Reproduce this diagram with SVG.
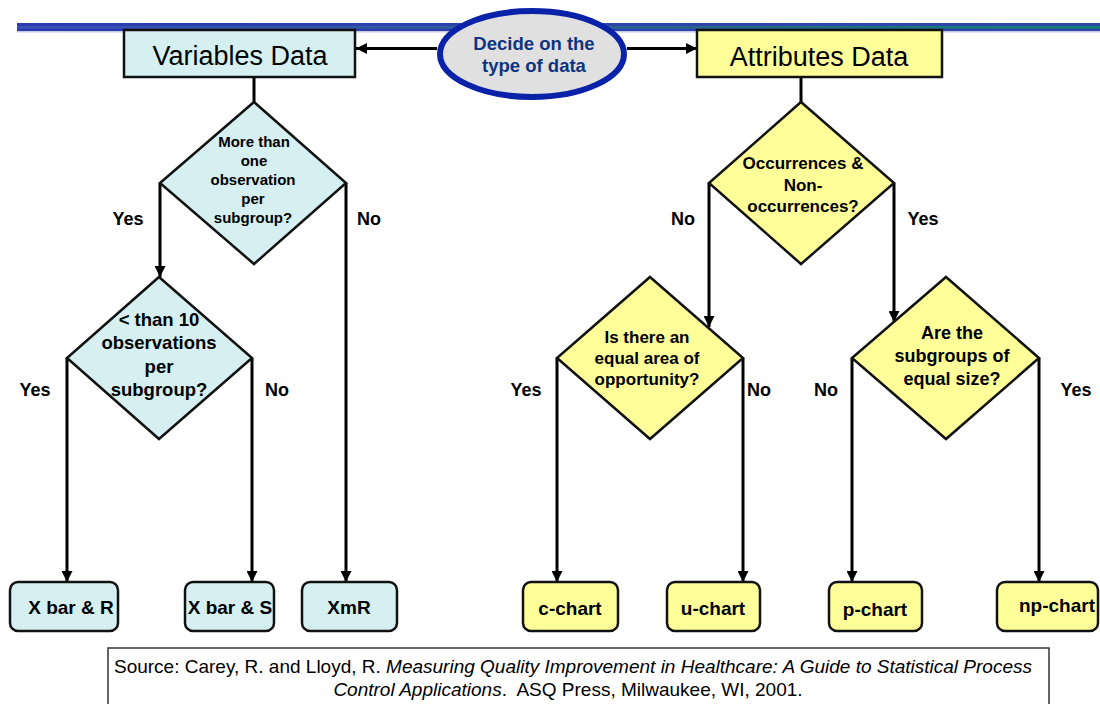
<svg xmlns="http://www.w3.org/2000/svg" width="1100" height="704" viewBox="0 0 1100 704">
<defs>
<linearGradient id="barG" x1="0" y1="0" x2="1" y2="0">
<stop offset="0" stop-color="#2a3cb0"/>
<stop offset="1" stop-color="#3048a8"/>
</linearGradient>
<linearGradient id="stripeG" x1="0" y1="0" x2="1" y2="0">
<stop offset="0" stop-color="#3a50b8"/>
<stop offset="0.5" stop-color="#2a6090"/>
<stop offset="1" stop-color="#0e8470"/>
</linearGradient>
<marker id="arr" viewBox="0 0 10 10" refX="10" refY="5" markerWidth="11" markerHeight="11" markerUnits="userSpaceOnUse" orient="auto">
<path d="M0,0 L10,5 L0,10 z" fill="#000"/>
</marker>
<style>
.conn{fill:none;stroke:#000;stroke-width:3}
.arrow{marker-end:url(#arr)}
.cyan{fill:#d6f0f2;stroke:#111;stroke-width:2.5}
.yel{fill:#ffff99;stroke:#111;stroke-width:2.5}
.dia{stroke-linejoin:miter}
.t{font-family:"Liberation Sans",Arial,sans-serif;fill:#000;text-anchor:middle}
.b{font-weight:bold}
.lbl{font-family:"Liberation Sans",Arial,sans-serif;font-weight:bold;font-size:18px;text-anchor:middle;fill:#000}
.src{font-family:"Liberation Sans",Arial,sans-serif;font-size:19px;fill:#000;text-anchor:middle}
</style>
</defs>
<rect x="0" y="0" width="1100" height="704" fill="#fff"/>
<g id="topbar">
<rect x="17" y="23" width="1083" height="8" fill="url(#barG)"/>
<rect x="17" y="26" width="1083" height="2.5" fill="url(#stripeG)"/>
<rect x="17" y="31" width="1083" height="1.5" fill="#c4cbe8"/>
</g>
<g id="connectors">
<path class="conn arrow" d="M437,48.5 H356"/>
<path class="conn arrow" d="M627,48.5 H697"/>
<path class="conn" d="M254,77 V102"/>
<path class="conn arrow" d="M160,183 V277"/>
<path class="conn arrow" d="M346,183 V582"/>
<path class="conn arrow" d="M67,358 V582"/>
<path class="conn arrow" d="M252,358 V582"/>
<path class="conn" d="M801,77 V102"/>
<path class="conn arrow" d="M709,183 V327"/>
<path class="conn arrow" d="M894,183 V322"/>
<path class="conn arrow" d="M557,358 V582"/>
<path class="conn arrow" d="M743,358 V582"/>
<path class="conn arrow" d="M852,358 V582"/>
<path class="conn arrow" d="M1039,358 V582"/>
</g>
<g id="labels">
<text class="lbl" x="128" y="225">Yes</text>
<text class="lbl" x="369" y="225">No</text>
<text class="lbl" x="35" y="396">Yes</text>
<text class="lbl" x="277" y="396">No</text>
<text class="lbl" x="683" y="225">No</text>
<text class="lbl" x="923" y="225">Yes</text>
<text class="lbl" x="526" y="396">Yes</text>
<text class="lbl" x="759" y="396">No</text>
<text class="lbl" x="826" y="396">No</text>
<text class="lbl" x="1076" y="396">Yes</text>
</g>
<g id="start">
<ellipse cx="532" cy="54" rx="92" ry="43" fill="#e0e0e0" stroke="#0a22a8" stroke-width="6"/>
<text class="t b" x="534" y="50" font-size="18.5" style="fill:#0d3580">Decide on the</text>
<text class="t b" x="534" y="72" font-size="18.5" style="fill:#0d3580">type of data</text>
</g>
<g id="variables">
<rect class="cyan" x="124" y="30" width="231" height="47"/>
<text class="t" x="240" y="65" font-size="27">Variables Data</text>
</g>
<g id="attributes">
<rect class="yel" x="697" y="30" width="245" height="47"/>
<text class="t" x="819" y="66" font-size="27">Attributes Data</text>
</g>
<g id="q-more-than-one">
<polygon class="cyan dia" points="254,102 346,183 254,264 160,183"/>
<text class="t b" font-size="15" x="254" y="147">More than</text>
<text class="t b" font-size="15" x="254" y="166">one</text>
<text class="t b" font-size="15" x="253" y="185">observation</text>
<text class="t b" font-size="15" x="253" y="204">per</text>
<text class="t b" font-size="15" x="253" y="223">subgroup?</text>
</g>
<g id="q-less-than-10">
<polygon class="cyan dia" points="159,277 252,358 159,439 67,358"/>
<text class="t b" font-size="18.5" x="159" y="326">&lt; than 10</text>
<text class="t b" font-size="18.5" x="159" y="349">observations</text>
<text class="t b" font-size="18.5" x="159" y="373">per</text>
<text class="t b" font-size="18.5" x="159" y="396">subgroup?</text>
</g>
<g id="q-occurrences">
<polygon class="yel dia" points="801,102 894,183 801,264 709,183"/>
<text class="t b" font-size="17" x="803" y="169">Occurrences &amp;</text>
<text class="t b" font-size="17" x="803" y="191">Non-</text>
<text class="t b" font-size="17" x="803" y="212">occurrences?</text>
</g>
<g id="q-equal-area">
<polygon class="yel dia" points="650,277 743,358 650,439 557,358"/>
<text class="t b" font-size="17" x="647" y="343">Is there an</text>
<text class="t b" font-size="17" x="647" y="364">equal area of</text>
<text class="t b" font-size="17" x="647" y="385">opportunity?</text>
</g>
<g id="q-equal-size">
<polygon class="yel dia" points="946,277 1039,358 946,439 852,358"/>
<text class="t b" font-size="18" x="952" y="339">Are the</text>
<text class="t b" font-size="18" x="952" y="362">subgroups of</text>
<text class="t b" font-size="18" x="952" y="385">equal size?</text>
</g>
<g id="xbar-r">
<rect class="cyan" x="10" y="582" width="108" height="49" rx="8"/>
<text class="t b" font-size="19" x="71" y="614">X bar &amp; R</text>
</g>
<g id="xbar-s">
<rect class="cyan" x="185" y="582" width="89" height="49" rx="8"/>
<text class="t b" font-size="19" x="230" y="614">X bar &amp; S</text>
</g>
<g id="xmr">
<rect class="cyan" x="302" y="582" width="95" height="49" rx="8"/>
<text class="t b" font-size="19" x="349" y="614">XmR</text>
</g>
<g id="c-chart">
<rect class="yel" x="523" y="582" width="95" height="49" rx="8"/>
<text class="t b" font-size="19" x="570" y="615">c-chart</text>
</g>
<g id="u-chart">
<rect class="yel" x="667" y="582" width="93" height="49" rx="8"/>
<text class="t b" font-size="19" x="713" y="615">u-chart</text>
</g>
<g id="p-chart">
<rect class="yel" x="829" y="582" width="93" height="49" rx="8"/>
<text class="t b" font-size="19" x="875" y="616">p-chart</text>
</g>
<g id="np-chart">
<rect class="yel" x="997" y="582" width="101" height="49" rx="8"/>
<text class="t b" font-size="19" x="1057" y="612">np-chart</text>
</g>
<g id="source">
<rect x="108" y="648" width="941" height="62" fill="#fff" stroke="#333" stroke-width="1.5"/>
<text class="src" x="573" y="673">Source: Carey, R. and Lloyd, R. <tspan font-style="italic">Measuring Quality Improvement in Healthcare: A Guide to Statistical Process</tspan></text>
<text class="src" x="568" y="696"><tspan font-style="italic">Control Applications</tspan>.&#160; ASQ Press, Milwaukee, WI, 2001.</text>
</g>
</svg>
